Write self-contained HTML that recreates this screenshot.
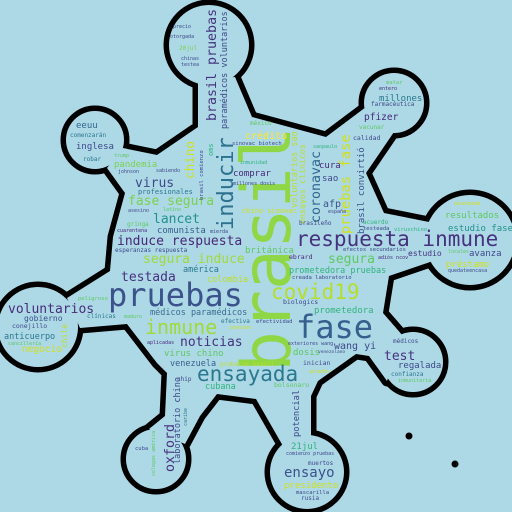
<!DOCTYPE html>
<html><head><meta charset="utf-8"><style>
html,body{margin:0;padding:0;background:#add8e6;}
svg{display:block;}
text{font-family:"DejaVu Sans Mono","Liberation Mono",monospace;}
</style></head><body>
<svg width="512" height="512" viewBox="0 0 512 512">
<rect width="512" height="512" fill="#add8e6"/>
<g stroke="#000" stroke-width="11" stroke-linejoin="round" fill="#000">
<polygon points="198,80 235,77 252,117 326,137 366,107 394,132 366,173 384,213 429,222 433,261 389,276 383,313 403,336 387,381 369,356 356,354 318,381 311,396 311,436 283,446 256,399 217,394 200,416 185,444 149,429 165,416 167,373 157,363 127,324 80,328 67,298 110,271 113,237 125,193 107,168 123,148 157,155 198,127"/>
<circle cx="209" cy="45" r="40"/><circle cx="394" cy="103" r="30"/><circle cx="470" cy="240" r="45"/>
<circle cx="413" cy="362" r="30"/><circle cx="307" cy="472" r="37"/><circle cx="156" cy="459" r="30"/>
<circle cx="38" cy="327" r="40"/><circle cx="95" cy="140" r="29"/>
</g>
<g fill="#add8e6" stroke="none">
<polygon points="198,80 235,77 252,117 326,137 366,107 394,132 366,173 384,213 429,222 433,261 389,276 383,313 403,336 387,381 369,356 356,354 318,381 311,396 311,436 283,446 256,399 217,394 200,416 185,444 149,429 165,416 167,373 157,363 127,324 80,328 67,298 110,271 113,237 125,193 107,168 123,148 157,155 198,127"/>
<circle cx="209" cy="45" r="40"/><circle cx="394" cy="103" r="30"/><circle cx="470" cy="240" r="45"/>
<circle cx="413" cy="362" r="30"/><circle cx="307" cy="472" r="37"/><circle cx="156" cy="459" r="30"/>
<circle cx="38" cy="327" r="40"/><circle cx="95" cy="140" r="29"/>
</g>
<circle cx="409" cy="436" r="3.5" fill="#000"/>
<circle cx="455" cy="464" r="3.5" fill="#000"/>
<g>
<text transform="translate(290,372) rotate(-90)" font-size="68" fill="#8fd744">brasil</text>
<text x="108" y="306" font-size="32" fill="#3b528b">pruebas</text>
<text x="296" y="338" font-size="32" fill="#35608d">fase</text>
<text x="296" y="246" font-size="21" fill="#46327e">respuesta inmune</text>
<text x="271" y="299" font-size="21" fill="#b5de2b">covid19</text>
<text x="145" y="334" font-size="20" fill="#a0da39">inmune</text>
<text x="197" y="381" font-size="21" fill="#2a788e">ensayada</text>
<text transform="translate(233,230) rotate(-90)" font-size="22" fill="#2c728e">inducir</text>
<text transform="translate(216,121) rotate(-90)" font-size="13.3" fill="#46327e">brasil pruebas</text>
<text transform="translate(227,129) rotate(-90)" font-size="8.5" fill="#3e4989">paramédicos voluntarios</text>
<text transform="translate(194,179) rotate(-90)" font-size="12.6" fill="#d0e11c">chino</text>
<text x="135" y="187" font-size="13" fill="#3e4a89">virus</text>
<text x="128" y="205" font-size="13" fill="#7ad151">fase segura</text>
<text x="153" y="223" font-size="13" fill="#21918c">lancet</text>
<text x="117" y="245" font-size="13" fill="#482878">induce respuesta</text>
<text x="157" y="233" font-size="9" fill="#35608d">comunista</text>
<text x="114" y="167" font-size="9" fill="#7ad151">pandemia</text>
<text x="76" y="149" font-size="9" fill="#3e4989">inglesa</text>
<text x="76" y="128" font-size="9" fill="#31688e">eeuu</text>
<text x="70" y="137" font-size="6" fill="#2a788e">comenzarán</text>
<text x="83" y="161" font-size="6" fill="#2a788e">robar</text>
<text x="114" y="157" font-size="5" fill="#5ec962">trump</text>
<text x="138" y="194" font-size="7" fill="#2a788e">profesionales</text>
<text x="118" y="173" font-size="5" fill="#3e4989">johnson</text>
<text x="127" y="226" font-size="6" fill="#5ec962">gringa</text>
<text x="117" y="232" font-size="5" fill="#482878">cuarentena</text>
<text x="128" y="212" font-size="5" fill="#3e4989">asesino</text>
<text x="115" y="252" font-size="6" fill="#3e4989">esperanzas respuesta</text>
<text x="163" y="211" font-size="5" fill="#5ec962">latino</text>
<text x="156" y="172" font-size="5" fill="#3e4989">sabiendo</text>
<text x="210" y="233" font-size="5" fill="#3e4989">mierda</text>
<text x="173" y="28" font-size="5" fill="#3e4989">precio</text>
<text x="170" y="38" font-size="5" fill="#3e4989">otorgada</text>
<text x="179" y="50" font-size="6" fill="#7ad151">20jul</text>
<text x="181" y="60" font-size="5" fill="#3e4989">chinas</text>
<text x="181" y="66" font-size="5" fill="#3e4989">testea</text>
<text transform="translate(213,156) rotate(-90)" font-size="7" fill="#2fb47c">oms</text>
<text transform="translate(203,200) rotate(-90)" font-size="5.5" fill="#3e4989">brasil comienzo</text>
<text x="245" y="139" font-size="10" fill="#fde725">crédito</text>
<text x="233" y="176" font-size="9" fill="#482878">comprar</text>
<text x="233" y="185" font-size="5" fill="#3e4989">millones dosis</text>
<text x="240" y="164" font-size="5" fill="#2fb47c">inmunidad</text>
<text x="242" y="213" font-size="7" fill="#d0e11c">chino sinovac</text>
<text x="245" y="253" font-size="9" fill="#5ec962">británica</text>
<text x="250" y="125" font-size="6" fill="#5ec962">méxico</text>
<text x="232" y="145" font-size="5.5" fill="#3e4989">sinovac biotech</text>
<text transform="translate(320,223) rotate(-90)" font-size="13.3" fill="#31688e">coronavac</text>
<text transform="translate(350,234) rotate(-90)" font-size="13.8" fill="#d0e11c">pruebas fase</text>
<text transform="translate(364,234) rotate(-90)" font-size="9" fill="#3b528b">brasil convirtió</text>
<text transform="translate(297,208) rotate(-90)" font-size="8.5" fill="#bddf26">voluntarios sao</text>
<text transform="translate(305,224) rotate(-90)" font-size="8.3" fill="#bddf26">ensayos clinicos</text>
<text x="319" y="168" font-size="9" fill="#482878">cura</text>
<text x="322" y="181" font-size="9" fill="#3e4989">sao</text>
<text x="323" y="207" font-size="10" fill="#3b528b">afp</text>
<text x="299" y="225" font-size="6" fill="#3e4989">brasileño</text>
<text x="328" y="213" font-size="5" fill="#3e4989">españa</text>
<text x="363" y="224" font-size="6" fill="#2fb47c">acuerdo</text>
<text x="363" y="230" font-size="5.5" fill="#3e4989">testeada</text>
<text x="394" y="231" font-size="5.5" fill="#2fb47c">viruschino</text>
<text x="343" y="251" font-size="5.5" fill="#3e4989">efectos secundarios</text>
<text x="408" y="256" font-size="8" fill="#46327e">estudio</text>
<text x="469" y="256" font-size="9" fill="#3e4989">avanza</text>
<text x="448" y="253" font-size="5" fill="#5ec962">locales</text>
<text x="445" y="218" font-size="9" fill="#5ec962">resultados</text>
<text x="448" y="231" font-size="9" fill="#21918c">estudio fase</text>
<text x="454" y="205" font-size="5.5" fill="#d0e11c">avanzada</text>
<text x="379" y="101" font-size="9" fill="#2a788e">millones</text>
<text x="371" y="106" font-size="6" fill="#3e4989">farmacéutica</text>
<text x="386" y="84" font-size="5.5" fill="#5ec962">matar</text>
<text x="379" y="90" font-size="5" fill="#482878">entero</text>
<text x="364" y="120" font-size="9.5" fill="#482878">pfizer</text>
<text x="359" y="129" font-size="6" fill="#5ec962">vacunar</text>
<text x="353" y="140" font-size="6.5" fill="#3e4989">calidad</text>
<text x="313" y="148" font-size="5" fill="#2fb47c">saopaulo</text>
<text x="328" y="263" font-size="13" fill="#5ec962">segura</text>
<text x="289" y="273" font-size="8.5" fill="#2fb47c">prometedora pruebas</text>
<text x="292" y="279" font-size="5.5" fill="#3e4989">creada laboratorio</text>
<text x="289" y="259" font-size="6.5" fill="#482878">ebrard</text>
<text x="283" y="304" font-size="6.5" fill="#3e4989">biologics</text>
<text x="314" y="313" font-size="9" fill="#2fb47c">prometedora</text>
<text x="256" y="323" font-size="5.5" fill="#3e4989">efectividad</text>
<text x="288" y="345" font-size="5" fill="#3e4989">exteriores wang</text>
<text x="334" y="349" font-size="10" fill="#3e4989">wang yi</text>
<text x="293" y="355" font-size="9" fill="#5ec962">dosis</text>
<text x="318" y="353" font-size="4.5" fill="#3e4989">venezolano</text>
<text x="384" y="360" font-size="13" fill="#46327e">test</text>
<text x="398" y="368" font-size="9" fill="#3e4989">regalada</text>
<text x="393" y="343" font-size="6" fill="#3e4989">médicos</text>
<text x="391" y="376" font-size="6" fill="#2a788e">confianza</text>
<text x="398" y="382" font-size="5" fill="#5ec962">inmunitaria</text>
<text x="303" y="365" font-size="6.5" fill="#3e4989">inician</text>
<text x="274" y="387" font-size="6.5" fill="#5ec962">bolsonaro</text>
<text x="309" y="373" font-size="5" fill="#d0e11c">acceder</text>
<text transform="translate(299,437) rotate(-90)" font-size="8.7" fill="#3e4989">potencial</text>
<text x="291" y="449" font-size="9" fill="#2fb47c">21jul</text>
<text x="286" y="455" font-size="5" fill="#3e4989">comienzo pruebas</text>
<text x="308" y="465" font-size="6" fill="#3e4989">muertos</text>
<text x="284" y="477" font-size="14" fill="#3b528b">ensayo</text>
<text x="284" y="488" font-size="9" fill="#d0e11c">presidente</text>
<text x="296" y="494" font-size="5.5" fill="#3e4989">mascarilla</text>
<text x="301" y="500" font-size="6" fill="#3e4989">rusia</text>
<text x="446" y="267" font-size="9" fill="#d0e11c">préstamo</text>
<text x="448" y="272" font-size="5" fill="#3e4989">quedateencasa</text>
<text x="378" y="259" font-size="5" fill="#482878">adiós ncov</text>
<text x="121" y="281" font-size="13" fill="#46327e">testada</text>
<text x="143" y="263" font-size="13" fill="#a0da39">segura induce</text>
<text x="183" y="272" font-size="8.5" fill="#2a788e">américa</text>
<text x="207" y="282" font-size="8.5" fill="#bddf26">colombia</text>
<text x="150" y="315" font-size="8.5" fill="#3b6d8e">médicos paramédicos</text>
<text x="221" y="323" font-size="6" fill="#2a788e">efectiva</text>
<text x="230" y="329" font-size="5" fill="#d0e11c">prestan</text>
<text x="180" y="346" font-size="13" fill="#46327e">noticias</text>
<text x="147" y="344" font-size="5" fill="#482878">aplicadas</text>
<text x="164" y="356" font-size="9" fill="#5ec962">virus chino</text>
<text x="170" y="366" font-size="8.5" fill="#35608d">venezuela</text>
<text x="220" y="366" font-size="6" fill="#bddf26">probarse brasil</text>
<text x="177" y="381" font-size="6" fill="#3e4989">chip</text>
<text x="205" y="389" font-size="8.5" fill="#2fb47c">cubana</text>
<text transform="translate(174,472) rotate(-90)" font-size="13.3" fill="#46327e">oxford</text>
<text transform="translate(180,464) rotate(-90)" font-size="8.5" fill="#3e4989">laboratorio chino</text>
<text transform="translate(187,426) rotate(-90)" font-size="5" fill="#2a788e">caribe</text>
<text transform="translate(155,476) rotate(-90)" font-size="5" fill="#5ec962">colegas américa</text>
<text x="135" y="450" font-size="5.5" fill="#3e4989">cuba</text>
<text x="8" y="313" font-size="13" fill="#472d7b">voluntarios</text>
<text x="24" y="321" font-size="8" fill="#3b528b">gobierno</text>
<text x="12" y="328" font-size="6.5" fill="#3e4989">conejillo</text>
<text x="4" y="339" font-size="8.5" fill="#2a788e">anticuerpo</text>
<text x="8" y="345" font-size="5" fill="#5ec962">cancillería</text>
<text x="22" y="352" font-size="9.5" fill="#d0e11c">negocio</text>
<text transform="translate(67,348) rotate(-90)" font-size="8" fill="#bddf26">chile</text>
<text x="78" y="300" font-size="5.5" fill="#5ec962">peligroso</text>
<text x="87" y="318" font-size="6" fill="#2a788e">clínicas</text>
<text x="124" y="318" font-size="5" fill="#5ec962">maduro</text>
</g>
</svg>
</body></html>
